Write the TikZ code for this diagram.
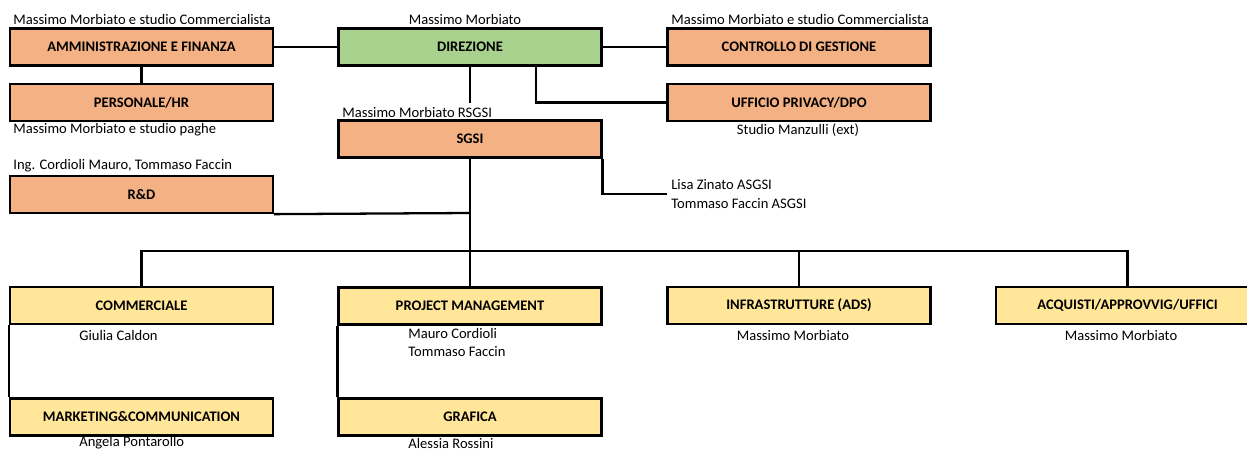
\documentclass[tikz,border=0pt]{standalone}
\usepackage{fontspec}
\setmainfont{Carlito}
\definecolor{unitorange}{HTML}{F4B183}
\definecolor{unitgreen}{HTML}{A9D18E}
\definecolor{unityellow}{HTML}{FFE699}

\begin{document}
\begin{tikzpicture}[
    x=0.02cm, y=-0.02cm,
    unitbox/.style={draw=black, line width=1.3pt,
                    minimum width=5.26cm, minimum height=0.74cm,
                    inner sep=0pt, font=\fontsize{8.3}{10}\selectfont\bfseries},
    staff/.style={unitbox, fill=unitorange},
    head/.style={unitbox, fill=unitgreen},
    dept/.style={unitbox, fill=unityellow},
    link/.style={line width=1.3pt},
    who/.style={inner sep=0pt, align=left, font=\fontsize{8.3}{10.2}\selectfont}
  ]
  \useasboundingbox (0,0) rectangle (1247,450);

  %% ── Top row: direzione and staff ──
  \node[staff] (amm)  at (141.5,47)  {AMMINISTRAZIONE E FINANZA};
  \node[head]  (dir)  at (470,47)    {DIREZIONE};
  \node[staff] (ctrl) at (799,47)    {CONTROLLO DI GESTIONE};
  \node[staff] (pers) at (141.5,102.5) {PERSONALE/HR};
  \node[staff] (priv) at (799,102.5) {UFFICIO PRIVACY/DPO};
  \node[staff] (sgsi) at (470,139)   {SGSI};
  \node[staff] (rd)   at (141.5,194.5) {R\&D};

  \node[who, anchor=west] (ammwho)  at (13,19)   {Massimo Morbiato e studio Commercialista};
  \node[who]              (dirwho)  at (465,19)  {Massimo Morbiato};
  \node[who, anchor=west] (ctrlwho) at (671,19)  {Massimo Morbiato e studio Commercialista};
  \node[who, anchor=west] (perswho) at (13,130)  {Massimo Morbiato e studio paghe};
  \node[who]              (privwho) at (798,130) {Studio Manzulli (ext)};
  \node[who, anchor=west] (sgsiwho) at (342,112) {Massimo Morbiato RSGSI};
  \node[who, anchor=west] (rdwho)   at (13,166)  {Ing. Cordioli Mauro, Tommaso Faccin};
  \node[who, anchor=west, inner xsep=0.08cm] (asgsi) at (667,194)
      {Lisa Zinato ASGSI\\[1pt]Tommaso Faccin ASGSI};

  %% ── Operative units ──
  \node[dept] (comm)  at (141.5,305.5) {COMMERCIALE};
  \node[dept] (pm)    at (470,306)     {PROJECT MANAGEMENT};
  \node[dept] (infra) at (799,305.5)   {INFRASTRUTTURE (ADS)};
  \node[dept] (acq)   at (1127.5,305.5) {ACQUISTI/APPROVVIG/UFFICI};
  \node[dept] (mkt)   at (141.5,417)   {MARKETING\&COMMUNICATION};
  \node[dept] (graf)  at (470,417)     {GRAFICA};

  \node[who, anchor=west] (commwho)  at (79,335)   {Giulia Caldon};
  \node[who, anchor=north west] (pmwho) at (408,328) {Mauro Cordioli\\Tommaso Faccin};
  \node[who]              (infrawho) at (793,335)  {Massimo Morbiato};
  \node[who]              (acqwho)   at (1121,335) {Massimo Morbiato};
  \node[who, anchor=west] (mktwho)   at (79,443)   {Angela Pontarollo};
  \node[who, anchor=west] (grafwho)  at (408,443)  {Alessia Rossini};

  %% ── Connectors ──
  \coordinate (dirstub) at (470,103);
  \coordinate (rdjoin)  at (470,213);
  \coordinate (bus)     at (470,251);

  \draw[link] (amm) -- (dir);
  \draw[link] (dir) -- (ctrl);
  \draw[link] (amm) -- (pers);
  \draw[link] (dir) -- (dirstub);
  \draw[link] ([xshift=1.32cm]dir.south) |- (priv.west);
  \draw[link] (sgsi.south east) |- (asgsi.west);
  \draw[link] (sgsi) -- (pm);
  \draw[link] (rd.south east) -- (rdjoin);
  \draw[link] (comm) |- (bus) -| (acq);
  \draw[link] (bus) -| (infra);
  \draw[link] (comm.south west) -- (mkt.north west);
  \draw[link] (pm.south west) -- (graf.north west);

\end{tikzpicture}
\end{document}
